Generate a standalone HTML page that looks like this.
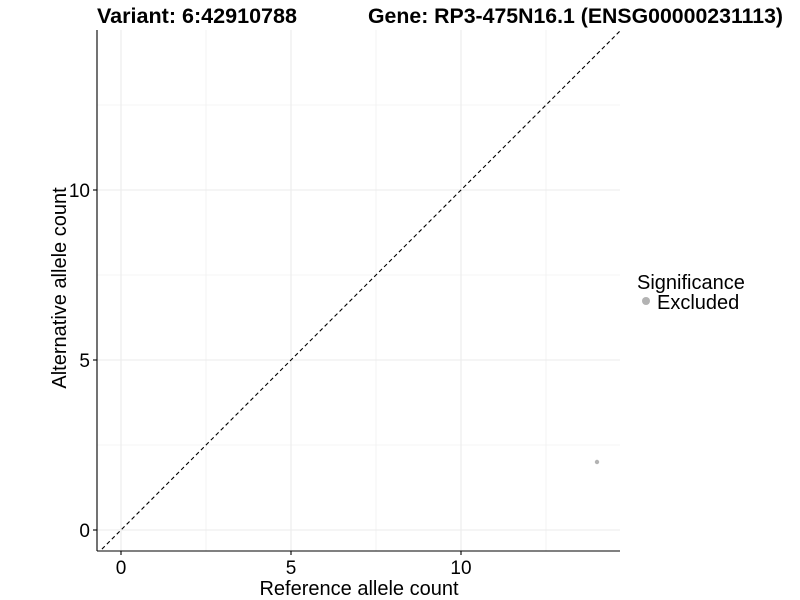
<!DOCTYPE html>
<html><head><style>body{margin:0;background:#fff}svg{display:block}</style></head><body>
<svg width="800" height="600" xmlns="http://www.w3.org/2000/svg" font-family="Liberation Sans, Arial, sans-serif">
<rect width="800" height="600" fill="#fff"/>
<defs><clipPath id="c"><rect x="97" y="30" width="523" height="521"/></clipPath></defs>
<g stroke="#ebebeb" stroke-width="0.6">
<line x1="206" y1="30" x2="206" y2="551"/><line x1="376" y1="30" x2="376" y2="551"/><line x1="546" y1="30" x2="546" y2="551"/>
<line x1="97" y1="445" x2="620" y2="445"/><line x1="97" y1="275" x2="620" y2="275"/><line x1="97" y1="105" x2="620" y2="105"/>
</g>
<g stroke="#ebebeb" stroke-width="1.1">
<line x1="121" y1="30" x2="121" y2="551"/><line x1="291" y1="30" x2="291" y2="551"/><line x1="461" y1="30" x2="461" y2="551"/>
<line x1="97" y1="530" x2="620" y2="530"/><line x1="97" y1="360" x2="620" y2="360"/><line x1="97" y1="190" x2="620" y2="190"/>
</g>
<line clip-path="url(#c)" x1="97" y1="554" x2="645" y2="6" stroke="#000" stroke-width="1.1" stroke-dasharray="4,3"/>
<circle cx="597" cy="462" r="2.2" fill="#b3b3b3"/>
<g stroke="#000" stroke-width="1.1">
<line x1="97" y1="30" x2="97" y2="551"/><line x1="97" y1="551" x2="620" y2="551"/>
<line x1="121" y1="551" x2="121" y2="555"/><line x1="291" y1="551" x2="291" y2="555"/><line x1="461" y1="551" x2="461" y2="555"/>
<line x1="93" y1="530" x2="97" y2="530"/><line x1="93" y1="360" x2="97" y2="360"/><line x1="93" y1="190" x2="97" y2="190"/>
</g>
<g font-size="19" fill="#000" text-anchor="middle">
<text x="121" y="574">0</text><text x="291" y="574">5</text><text x="461" y="574">10</text>
</g>
<g font-size="19" fill="#000" text-anchor="end">
<text x="90" y="537">0</text><text x="90" y="367">5</text><text x="90" y="197">10</text>
</g>
<text x="359" y="595" font-size="20" text-anchor="middle">Reference allele count</text>
<text transform="translate(66,288) rotate(-90)" font-size="20" text-anchor="middle">Alternative allele count</text>
<text x="97" y="23" font-size="21" font-weight="bold" textLength="200" lengthAdjust="spacingAndGlyphs">Variant: 6:42910788</text>
<text x="368" y="23" font-size="21" font-weight="bold" textLength="415" lengthAdjust="spacingAndGlyphs">Gene: RP3-475N16.1 (ENSG00000231113)</text>
<text x="637" y="289" font-size="20">Significance</text>
<circle cx="646" cy="301" r="4" fill="#b3b3b3"/>
<text x="657" y="309" font-size="20">Excluded</text>
</svg>
</body></html>
